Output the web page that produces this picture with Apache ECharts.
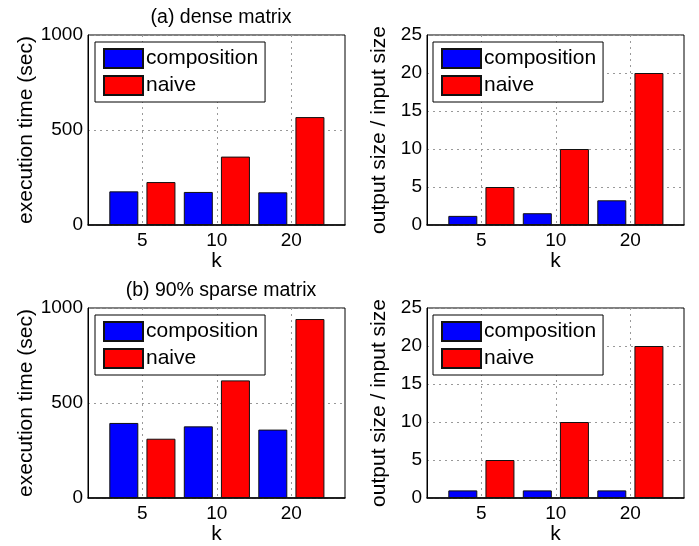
<!DOCTYPE html>
<html>
<head>
<meta charset="utf-8">
<script src="https://cdn.jsdelivr.net/npm/echarts@6/dist/echarts.min.js"></script>
<style>
  html, body { margin: 0; padding: 0; background: #fff; }
  #chart { width: 699px; height: 546px; }
</style>
</head>
<body>
<div id="chart"></div>
<script>
// k 的取值（横轴刻度）
const kLabels = ['5', '10', '20'];
const kPos = [1, 2, 3];

// (a) dense matrix
const denseTimeComposition = [177, 174, 172];
const denseTimeNaive = [226, 360, 568];
const denseSizeComposition = [1.2, 1.55, 3.25];
const denseSizeNaive = [5, 10, 20];

// (b) 90% sparse matrix
const sparseTimeComposition = [395, 377, 360];
const sparseTimeNaive = [312, 619, 942];
const sparseSizeComposition = [1.0, 1.0, 1.0];
const sparseSizeNaive = [5, 10, 20];

const fontFamily = 'Liberation Sans, Arial, sans-serif';

let chartDom = document.querySelector('#chart');
let chart = echarts.init(chartDom);

// 四个子图的位置
const grids = [
    { left: 88, top: 35, width: 257, height: 190 },
    { left: 427, top: 35, width: 257, height: 190 },
    { left: 88, top: 308, width: 257, height: 190 },
    { left: 427, top: 308, width: 257, height: 190 }
];

function toPoints(values) {
    return values.map(function (v, i) { return [kPos[i], v]; });
}

let xAxes = [];
let yAxes = [];
let series = [];
let legends = [];

const panels = [
    { comp: denseTimeComposition, naive: denseTimeNaive, max: 1000, interval: 500, name: 'execution time (sec)', gap: 50 },
    { comp: denseSizeComposition, naive: denseSizeNaive, max: 25, interval: 5, name: 'output size / input size', gap: 37 },
    { comp: sparseTimeComposition, naive: sparseTimeNaive, max: 1000, interval: 500, name: 'execution time (sec)', gap: 50 },
    { comp: sparseSizeComposition, naive: sparseSizeNaive, max: 25, interval: 5, name: 'output size / input size', gap: 37 }
];

const gridLine = { show: true, lineStyle: { color: '#999', type: [2, 4], width: 1 } };

panels.forEach(function (p, i) {
    xAxes.push({
        type: 'value',
        gridIndex: i,
        min: 0.27,
        max: 3.72,
        name: 'k',
        nameLocation: 'middle',
        nameGap: 24,
        nameTextStyle: { fontSize: 21, color: '#000', fontFamily: fontFamily },
        axisLine: { show: true, onZero: false, lineStyle: { color: '#000', width: 1.5 } },
        axisTick: { show: false, customValues: kPos },
        axisLabel: {
            customValues: kPos,
            margin: 6,
            fontSize: 19,
            color: '#000',
            fontFamily: fontFamily,
            formatter: function (v) { return kLabels[kPos.indexOf(v)]; }
        },
        splitLine: gridLine
    });
    yAxes.push({
        type: 'value',
        gridIndex: i,
        min: 0,
        max: p.max,
        interval: p.interval,
        name: p.name,
        nameLocation: 'middle',
        nameGap: p.gap,
        nameTextStyle: { fontSize: 21, color: '#000', fontFamily: fontFamily },
        axisLine: { show: true, lineStyle: { color: '#000', width: 1 } },
        axisTick: { show: false },
        axisLabel: {
            margin: 5, fontSize: 19, color: '#000', fontFamily: fontFamily,
            formatter: function (v) { return String(v); }
        },
        splitLine: gridLine
    });
    series.push({
        name: 'composition',
        type: 'bar',
        xAxisIndex: i,
        yAxisIndex: i,
        barWidth: 29,
        barGap: '28%',
        data: toPoints(p.comp),
        itemStyle: { color: '#0000ff', borderColor: '#111', borderWidth: 1 }
    });
    series.push({
        name: 'naive',
        type: 'bar',
        xAxisIndex: i,
        yAxisIndex: i,
        barWidth: 29,
        barGap: '28%',
        data: toPoints(p.naive),
        itemStyle: { color: '#ff0000', borderColor: '#111', borderWidth: 1 }
    });
    legends.push({
        data: ['composition', 'naive'],
        orient: 'vertical',
        left: grids[i].left + (i % 2 === 0 ? 7 : 6),
        top: grids[i].top + 7,
        padding: [6, 7, 6, 8],
        itemGap: 6,
        itemWidth: 39,
        itemHeight: 19,
        icon: 'rect',
        selectedMode: false,
        backgroundColor: '#fff',
        borderColor: '#000',
        borderWidth: 1,
        textStyle: { fontSize: 21, color: '#000', fontFamily: fontFamily, padding: [0, 0, 0, -2] }
    });
});

let option = {
    animation: false,
    backgroundColor: '#fff',
    title: [
        { text: '(a) dense matrix', left: 216, top: 3, textAlign: 'center',
          textStyle: { fontSize: 19.5, fontWeight: 'normal', color: '#000', fontFamily: fontFamily } },
        { text: '(b) 90% sparse matrix', left: 216, top: 276, textAlign: 'center',
          textStyle: { fontSize: 19.5, fontWeight: 'normal', color: '#000', fontFamily: fontFamily } }
    ],
    grid: grids.map(function (g) {
        return Object.assign({ show: true, borderColor: '#000', borderWidth: 1, backgroundColor: 'transparent' }, g);
    }),
    legend: legends,
    xAxis: xAxes,
    yAxis: yAxes,
    series: series
};

chart.setOption(option);
</script>
</body>
</html>
